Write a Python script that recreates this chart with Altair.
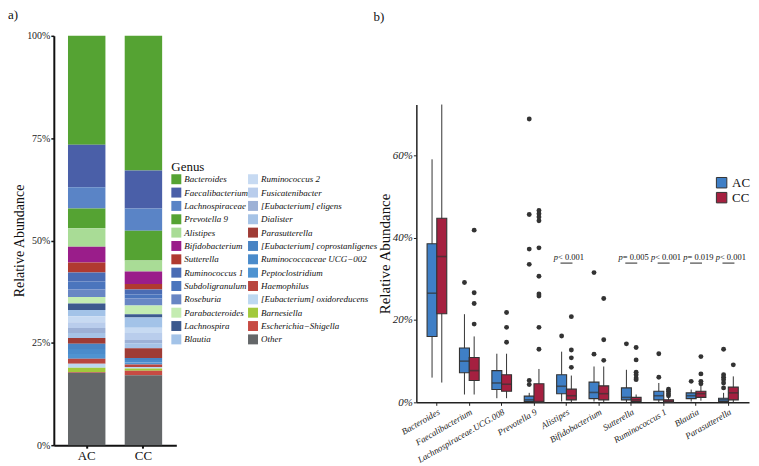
import altair as alt
import pandas as pd

SERIF = "Liberation Serif"

# ---------------- panel a) : stacked genus composition ----------------
samples = ["AC", "CC"]
genera = [
    "Bacteroides", "Faecalibacterium", "Lachnospiraceae", "Prevotella 9", "Alistipes",
    "Bifidobacterium", "Sutterella", "Ruminococcus 1", "Subdoligranulum", "Roseburia",
    "Parabacteroides", "Lachnospira", "Blautia",
    "Ruminococcus 2", "Fusicatenibacter", "[Eubacterium] eligens", "Dialister", "Parasutterella",
    "[Eubacterium] coprostanligenes", "Ruminococcaceae UCG\u2212002", "Peptoclostridium",
    "Haemophilus", "[Eubacterium] oxidoreducens", "Barnesiella", "Escherichia\u2212Shigella", "Other",
]
genus_colors = [
    "#55a333", "#4a5fa8", "#5a84c6", "#55a333", "#a9dc96",
    "#9a1d8a", "#b03a30", "#4a6cb4", "#4b75bd", "#6886c4",
    "#c4ecb2", "#3d5a8e", "#a3c3e8",
    "#c7daf2", "#b9cdec", "#9db1d6", "#a6c3e6", "#9f3b35",
    "#4984c4", "#4a8bcb", "#4f93d1",
    "#b9463f", "#bdd8f0", "#a2c93b", "#c74b44", "#646769",
]
ac_abund = [26.6, 10.4, 5.2, 4.8, 4.5, 3.9, 2.4, 2.2, 2.0, 1.8, 1.6, 1.6, 1.5,
            1.5, 1.4, 1.2, 1.2, 1.4, 1.3, 1.2, 1.2, 1.2, 1.0, 1.0, 0.2, 17.7]
cc_abund = [32.9, 9.3, 5.4, 7.3, 2.7, 3.0, 1.4, 1.2, 1.0, 1.7, 2.1, 0.8, 2.5,
            1.3, 1.7, 0.8, 1.2, 2.4, 0.5, 0.6, 0.5, 0.6, 0.4, 0.5, 1.1, 17.1]

# ---------------- panel b) : box plots ----------------
box_genera = ["Bacteroides", "Faecalibacterium", "Lachnospiraceae.UCG.008", "Prevotella 9",
              "Alistipes", "Bifidobacterium", "Sutterella", "Ruminococcus 1", "Blautia",
              "Parasutterella"]
groups = ["AC", "CC"]
group_colors = ["#3f7fc6", "#a52040"]

ac_q1 = [16.0, 7.2, 3.1, 0.2, 2.1, 0.9, 0.6, 0.6, 0.9, 0.2]
ac_med = [26.5, 10.0, 4.7, 0.6, 3.9, 2.4, 1.2, 1.6, 1.6, 0.6]
ac_q3 = [38.5, 13.2, 7.7, 1.5, 6.7, 4.9, 3.5, 2.7, 2.3, 1.0]
ac_lo = [6.0, 1.9, 1.0, 0.0, 0.2, 0.2, 0.0, 0.0, 0.2, 0.0]
ac_hi = [59.0, 21.4, 11.8, 2.3, 12.3, 8.7, 7.9, 4.7, 3.1, 2.3]
ac_outliers = [[], [29.1], [], [68.8, 45.6, 37.2, 33.5, 5.3, 4.3], [16.1], [31.5, 11.7],
               [14.2], [11.8, 6.1], [5.1], [12.9, 6.7, 6.1, 5.5, 4.7, 3.5]]

cc_q1 = [21.5, 5.3, 2.7, 0.0, 0.6, 0.6, 0.2, 0.0, 1.2, 0.6]
cc_med = [35.4, 7.7, 4.4, 0.2, 1.6, 2.1, 0.6, 0.2, 2.1, 2.3]
cc_q3 = [44.7, 10.9, 6.7, 4.5, 3.2, 4.0, 1.2, 0.6, 2.7, 3.7]
cc_lo = [4.8, 1.9, 1.0, 0.0, 0.0, 0.0, 0.0, 0.0, 0.4, 0.0]
cc_hi = [72.3, 16.0, 11.8, 8.1, 6.5, 8.7, 1.9, 1.5, 4.0, 6.3]
cc_outliers = [[], [41.8, 26.6, 24.0, 19.0], [21.8, 18.2, 14.6],
               [46.6, 45.8, 45.0, 44.1, 37.5, 30.6, 26.3, 25.8, 18.2, 12.9],
               [20.8, 12.7, 10.8, 8.5], [25.2, 15.2, 10.2], [13.3, 10.3, 7.3, 6.7, 5.9, 5.5],
               [3.2, 2.7, 2.1, 1.6], [11.1, 6.9, 5.1, 4.5], [9.1]]

pval_genera = ["Alistipes", "Sutterella", "Ruminococcus 1", "Blautia", "Parasutterella"]
pval_labels = ["< 0.001", "= 0.005", "< 0.001", "= 0.019", "< 0.001"]

# ---------------- tables ----------------
stack_rows = []
for s, vals in zip(samples, [ac_abund, cc_abund]):
    for i, (g, v) in enumerate(zip(genera, vals)):
        stack_rows.append({"sample": s, "genus": g, "value": v, "idx": i})
stack_df = pd.DataFrame(stack_rows)

box_rows = []
for grp, arrs in zip(groups, [(ac_q1, ac_med, ac_q3, ac_lo, ac_hi), (cc_q1, cc_med, cc_q3, cc_lo, cc_hi)]):
    for i, g in enumerate(box_genera):
        box_rows.append({"genus": g, "group": grp, "q1": arrs[0][i], "med": arrs[1][i],
                         "q3": arrs[2][i], "lo": arrs[3][i], "hi": arrs[4][i]})
box_df = pd.DataFrame(box_rows)

out_rows = []
for grp, outs in zip(groups, [ac_outliers, cc_outliers]):
    for g, vals in zip(box_genera, outs):
        for v in vals:
            out_rows.append({"genus": g, "group": grp, "value": v})
out_df = pd.DataFrame(out_rows)

pval_df = pd.DataFrame({"genus": pval_genera, "label": pval_labels})

# ---------------- left chart ----------------
left = alt.Chart(stack_df).mark_bar().encode(
    x=alt.X("sample:N", sort=samples, title=None,
            scale=alt.Scale(paddingInner=0.34, paddingOuter=0.25),
            axis=alt.Axis(labelAngle=0, labelFontSize=13, labelColor="#111", labelPadding=1,
                          domainWidth=2, domainColor="#111", tickColor="#111", tickWidth=2, tickSize=3)),
    y=alt.Y("value:Q", stack="normalize", title="Relative Abundance",
            scale=alt.Scale(domain=[0, 1]),
            axis=alt.Axis(values=[0, 0.25, 0.5, 0.75, 1], format=".0%", labelFontSize=10,
                          labelColor="#222", labelPadding=1, titleFontSize=14,
                          titleFontWeight="normal", titleColor="#111", titlePadding=0,
                          domainWidth=2, domainColor="#111",
                          tickColor="#111", tickSize=3, tickWidth=1.5)),
    color=alt.Color("genus:N", scale=alt.Scale(domain=genera, range=genus_colors),
                    legend=alt.Legend(orient="none", legendX=118, legendY=126, columns=2,
                                      title="Genus", titleFont=SERIF, titleFontSize=13,
                                      titleFontWeight="normal", titleColor="#111", titlePadding=0,
                                      symbolType="square", symbolSize=100, symbolStrokeWidth=0,
                                      labelFont=SERIF, labelFontStyle="italic", labelFontSize=9,
                                      labelColor="#111", labelOffset=3, rowPadding=3.4,
                                      columnPadding=0, labelLimit=300)),
    order=alt.Order("idx:Q", sort="descending"),
).properties(width=123, height=411,
             title=alt.TitleParams("a)", anchor="start", frame="group", dx=-46, offset=9,
                                   font=SERIF, fontSize=13, fontWeight="normal", color="#111"))

# ---------------- right chart ----------------
xenc = alt.X("genus:N", sort=box_genera, title=None,
             scale=alt.Scale(paddingInner=0.4, paddingOuter=0.335),
             axis=alt.Axis(labelAngle=-30, labelFontSize=9, labelFontStyle="italic",
                           labelColor="#222", labelPadding=2, domainWidth=1.5, domainColor="#222",
                           tickColor="#222", tickSize=3))
xoff = alt.XOffset("group:N", sort=groups, scale=alt.Scale(paddingInner=0, paddingOuter=0))
yaxis = alt.Axis(values=[0, 20, 40, 60], labelExpr="datum.value + '%'", labelFontSize=11,
                 labelFontStyle="italic", labelColor="#222", labelPadding=1, titleFontSize=15,
                 titleFontWeight="normal", titleColor="#111", titlePadding=0,
                 domainWidth=1.5, domainColor="#222", tickColor="#222", tickSize=3)
yscale = alt.Scale(domain=[0, 72.3], nice=False, zero=True)

base_box = alt.Chart(box_df)
whiskers = base_box.mark_rule(color="#333", strokeWidth=1).encode(
    x=xenc, xOffset=xoff,
    y=alt.Y("lo:Q", scale=yscale, axis=yaxis, title="Relative Abundance"), y2="hi:Q")
boxes = base_box.mark_bar(size=10, stroke="#333", strokeWidth=1.1).encode(
    x=xenc, xOffset=xoff,
    y=alt.Y("q1:Q", scale=yscale, axis=yaxis, title="Relative Abundance"), y2="q3:Q",
    color=alt.Color("group:N", scale=alt.Scale(domain=groups, range=group_colors),
                    legend=alt.Legend(orient="none", legendX=300, legendY=141, title=None,
                                      symbolType="square", symbolSize=110,
                                      symbolStrokeColor="#333", symbolStrokeWidth=1,
                                      labelFont=SERIF, labelFontSize=13, labelColor="#111",
                                      labelOffset=4, rowPadding=0)))
medians = base_box.mark_tick(color="#333", size=10, thickness=1.6).encode(
    x=xenc, xOffset=xoff,
    y=alt.Y("med:Q", scale=yscale, axis=yaxis, title="Relative Abundance"))
outliers = alt.Chart(out_df).mark_circle(color="#333", size=24, opacity=1).encode(
    x=xenc, xOffset=xoff,
    y=alt.Y("value:Q", scale=yscale, axis=yaxis, title="Relative Abundance"))
p_letter = alt.Chart(pval_df).mark_text(align="right", baseline="middle", dx=-8.5, font=SERIF,
                                        fontSize=8.5, fontStyle="italic", color="#111").encode(
    x=xenc, y=alt.datum(35.3), text=alt.value("p"))
p_rest = alt.Chart(pval_df).mark_text(align="left", baseline="middle", dx=-8.5, font=SERIF,
                                      fontSize=8.5, color="#111").encode(
    x=xenc, y=alt.datum(35.3), text="label:N")
p_line = alt.Chart(pval_df).mark_tick(color="#111", size=12, thickness=1.3).encode(
    x=xenc, y=alt.datum(33.8))

right = alt.layer(whiskers, boxes, medians, outliers, p_line, p_letter, p_rest).properties(
    width=334, height=299)

spacer = alt.Chart(pd.DataFrame({"a": [0]})).mark_point(opacity=0).encode(
    x=alt.value(0), y=alt.value(0)
).properties(width=334, height=59,
             title=alt.TitleParams("b)", anchor="start", frame="group", dx=-43, offset=9,
                                   font=SERIF, fontSize=13, fontWeight="normal", color="#111"))

right_col = alt.vconcat(spacer, right, spacing=10, bounds="flush")

chart = alt.hconcat(left, right_col, spacing=241, bounds="flush").resolve_scale(
    color="independent", x="independent", y="independent"
).properties(padding=0).configure_view(stroke=None).configure_axis(
    grid=False, labelFont=SERIF, titleFont=SERIF
).configure_text(font=SERIF)

chart.save("out.html", embed_options={"renderer": "svg", "actions": False})
